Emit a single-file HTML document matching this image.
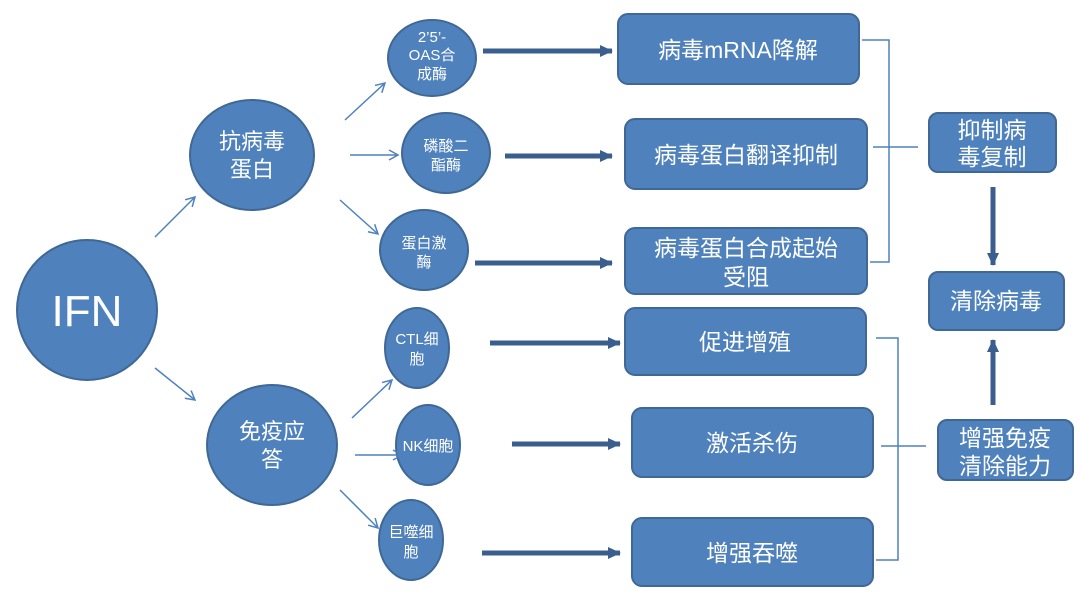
<!DOCTYPE html>
<html><head><meta charset="utf-8"><style>
html,body{margin:0;padding:0;background:#fff;}
svg{display:block;}
text{font-family:"Liberation Sans","Noto Sans CJK SC",sans-serif;fill:#fff;text-anchor:middle;}
</style></head><body>
<svg width="1080" height="598" viewBox="0 0 1080 598" xmlns="http://www.w3.org/2000/svg">
<defs>
<marker id="thin" markerWidth="12" markerHeight="12" refX="10" refY="6" orient="auto" markerUnits="userSpaceOnUse">
<path d="M1,1 L10,6 L1,11" fill="none" stroke="#4f81bd" stroke-width="1.5"/></marker>
<marker id="thick" markerWidth="14" markerHeight="14" refX="12" refY="7" orient="auto" markerUnits="userSpaceOnUse">
<path d="M0,1 L13,7 L0,13 Z" fill="#3a5f8f"/></marker>
</defs>
<g fill="#4f81bd" stroke="#3f6896" stroke-width="2">
<ellipse cx="87" cy="310" rx="70" ry="70"/>
<ellipse cx="252" cy="155" rx="62" ry="55"/>
<ellipse cx="272" cy="445" rx="65" ry="60"/>
<ellipse cx="432" cy="58" rx="44" ry="38"/>
<ellipse cx="446" cy="153" rx="44" ry="40"/>
<ellipse cx="424" cy="250" rx="44" ry="40"/>
<ellipse cx="417" cy="348" rx="32" ry="40"/>
<ellipse cx="428" cy="445" rx="32" ry="40"/>
<ellipse cx="411" cy="540" rx="32" ry="40"/>
<rect x="618" y="14" width="241" height="70" rx="10"/>
<rect x="625" y="119" width="242" height="70" rx="10"/>
<rect x="625" y="228" width="242" height="66" rx="10"/>
<rect x="625" y="308" width="241" height="67" rx="10"/>
<rect x="632" y="408" width="241" height="69" rx="10"/>
<rect x="632" y="518" width="241" height="68" rx="10"/>
<rect x="929" y="113" width="127" height="59" rx="9"/>
<rect x="929" y="272" width="135" height="58" rx="9"/>
<rect x="938" y="420" width="135" height="60" rx="9"/>
</g>
<g stroke="#4f81bd" stroke-width="1.5" fill="none" marker-end="url(#thin)">
<line x1="155" y1="237" x2="195" y2="197"/>
<line x1="155" y1="368" x2="195" y2="400"/>
<line x1="345" y1="120" x2="385" y2="83"/>
<line x1="350" y1="155" x2="398" y2="155"/>
<line x1="340" y1="200" x2="378" y2="234"/>
<line x1="352" y1="418" x2="392" y2="380"/>
<line x1="355" y1="455" x2="402" y2="455"/>
<line x1="340" y1="490" x2="378" y2="528"/>
</g>
<g stroke="#3a5f8f" stroke-width="5" fill="none" marker-end="url(#thick)">
<line x1="483" y1="51" x2="612" y2="51"/>
<line x1="505" y1="156" x2="612" y2="156"/>
<line x1="475" y1="263" x2="612" y2="263"/>
<line x1="490" y1="343" x2="620" y2="343"/>
<line x1="512" y1="444" x2="620" y2="444"/>
<line x1="482" y1="553" x2="620" y2="553"/>
<line x1="993" y1="187" x2="993" y2="265"/>
<line x1="993" y1="405" x2="993" y2="340"/>
</g>
<g stroke="#4f81bd" stroke-width="1.5" fill="none">
<path d="M862,40 L889,40 L889,262 L870,262"/>
<line x1="873" y1="147" x2="918" y2="147"/>
<path d="M876,338 L898,338 L898,560 L876,560"/>
<line x1="881" y1="446" x2="926" y2="446"/>
</g>
<text x="87" y="326" font-size="44">IFN</text>
<text x="252" y="149" font-size="22">抗病毒</text>
<text x="252" y="177" font-size="22">蛋白</text>
<text x="272" y="439" font-size="22">免疫应</text>
<text x="272" y="467" font-size="22">答</text>
<g font-size="15">
<text x="432" y="42">2’5’-</text>
<text x="432" y="60">OAS合</text>
<text x="432" y="79">成酶</text>
<text x="446" y="151">磷酸二</text>
<text x="446" y="170">酯酶</text>
<text x="424" y="248">蛋白激</text>
<text x="424" y="267">酶</text>
<text x="417" y="344">CTL细</text>
<text x="417" y="364">胞</text>
<text x="428" y="451">NK细胞</text>
<text x="411" y="537">巨噬细</text>
<text x="411" y="557">胞</text>
</g>
<g font-size="23">
<text x="738" y="58">病毒mRNA降解</text>
<text x="746" y="163">病毒蛋白翻译抑制</text>
<text x="746" y="256">病毒蛋白合成起始</text>
<text x="746" y="285">受阻</text>
<text x="745" y="350">促进增殖</text>
<text x="752" y="451">激活杀伤</text>
<text x="752" y="561">增强吞噬</text>
<text x="992" y="138">抑制病</text>
<text x="992" y="165">毒复制</text>
<text x="996" y="309">清除病毒</text>
<text x="1005" y="446">增强免疫</text>
<text x="1005" y="474">清除能力</text>
</g>
</svg>
</body></html>
